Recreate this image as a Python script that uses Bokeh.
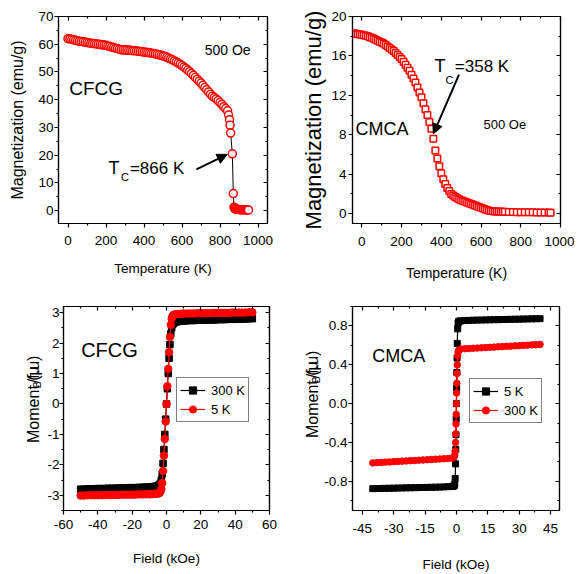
import math
from bokeh.plotting import figure
from bokeh.models import (Range1d, LinearAxis, FixedTicker, PrintfTickFormatter, Label,
                          Arrow, NormalHead, Legend, LegendItem)
from bokeh.layouts import column, row
from bokeh.embed import file_html
from bokeh.resources import INLINE

FONT = "Liberation Sans"
RED = "#ff0000"

# ---------------- Panel 1: CFCG  M(T) at 500 Oe ----------------
cfcg_T = [0, 10, 20, 30, 40, 50, 60, 70, 80, 90, 100, 110, 120, 130, 140, 150, 160, 170, 180, 190,
          200, 210, 220, 230, 240, 250, 260, 270, 280, 290, 300, 310, 320, 330, 340, 350, 360, 370,
          380, 390, 400, 410, 420, 430, 440, 450, 460, 470, 480, 490, 500, 510, 520, 530, 540, 550,
          560, 570, 580, 590, 600, 610, 620, 630, 640, 650, 660, 670, 680, 690, 700, 710, 720, 730,
          740, 750, 760, 770, 780, 790, 800, 810, 820, 830, 840, 845, 850, 853, 856, 865, 870, 874,
          877, 880, 885, 890, 895, 900, 905, 910, 915, 920, 925, 930, 935, 940, 945, 950]
cfcg_M = [62.0, 61.9, 61.8, 61.6, 61.4, 61.2, 61.1, 61.0, 60.9, 60.7, 60.6, 60.5, 60.4, 60.3, 60.2,
          60.1, 60.0, 59.9, 59.8, 59.7, 59.6, 59.4, 59.2, 59.0, 58.8, 58.6, 58.4, 58.2, 58.0, 58.0,
          57.9, 57.9, 57.8, 57.8, 57.7, 57.7, 57.6, 57.5, 57.4, 57.3, 57.2, 57.1, 57.0, 56.9, 56.8,
          56.7, 56.5, 56.4, 56.2, 56.0, 55.8, 55.6, 55.3, 55.0, 54.7, 54.4, 54.0, 53.6, 53.2, 52.8,
          52.3, 51.8, 51.3, 50.7, 50.1, 49.5, 48.8, 48.1, 47.4, 46.7, 46.0, 45.2, 44.4, 43.6, 42.8,
          42.0, 41.3, 40.8, 40.3, 39.7, 39.0, 38.3, 37.5, 36.8, 36.0, 34.5, 32.8, 30.8, 28.0, 20.5,
          6.2, 1.3, 0.8, 0.6, 0.55, 0.5, 0.45, 0.45, 0.4, 0.4, 0.4, 0.35, 0.35, 0.35, 0.3, 0.3, 0.3, 0.3]

# ---------------- Panel 2: CMCA  M(T) at 500 Oe ----------------
cmca_T = [-40, -30, -20, -10, 0, 10, 20, 30, 40, 50, 60, 70, 80, 90, 100, 110, 120, 130, 140, 150,
          160, 170, 180, 190, 200, 210, 220, 230, 240, 250, 260, 270, 280, 290, 300, 310, 320, 330,
          340, 350, 360, 370, 380, 390, 400, 410, 420, 430, 440, 450, 460, 470, 480, 490, 500, 510,
          520, 530, 540, 550, 560, 570, 580, 590, 600, 610, 620, 630, 640, 650, 660, 670, 680, 690,
          700, 710, 720, 740, 760, 780, 800, 820, 840, 860, 880, 900, 920, 940, 950]
cmca_M = [18.3, 18.25, 18.2, 18.2, 18.15, 18.1, 18.05, 18.0, 17.9, 17.85, 17.75, 17.65, 17.55,
          17.45, 17.35, 17.25, 17.1, 16.95, 16.8, 16.65, 16.5, 16.3, 16.1, 15.9, 15.7, 15.4, 15.1,
          14.8, 14.5, 14.1, 13.7, 13.3, 12.8, 12.3, 11.8, 11.2, 10.6, 10.0, 9.3, 8.6, 7.6, 6.4, 5.6,
          4.8, 4.1, 3.5, 3.0, 2.6, 2.3, 2.0, 1.85, 1.7, 1.55, 1.45, 1.35, 1.28, 1.2, 1.12, 1.05,
          0.98, 0.9, 0.82, 0.75, 0.67, 0.6, 0.52, 0.45, 0.37, 0.3, 0.26, 0.25, 0.23, 0.22, 0.21,
          0.2, 0.19, 0.18, 0.17, 0.16, 0.15, 0.15, 0.14, 0.13, 0.13, 0.12, 0.12, 0.11, 0.11, 0.1]

# ---------------- Panel 3: CFCG  M(H) ----------------
cfcg_H = [-50, -48, -46, -44, -42, -40, -38, -36, -34, -32, -30, -28, -26, -24, -22, -20, -18, -16,
          -14, -12, -10, -9, -8, -7, -6, -5, -4.5, -4, -3.5, -3, -2.5, -2, -1.5, -1, -0.5, 0, 0.5,
          1, 1.5, 2, 2.5, 3, 3.5, 4, 4.5, 5, 6, 7, 8, 9, 10, 12, 14, 16, 18, 20, 22, 24, 26, 28, 30,
          32, 34, 36, 38, 40, 42, 44, 46, 48, 50]
cfcg_300K = [-2.80, -2.80, -2.79, -2.79, -2.79, -2.78, -2.78, -2.78, -2.77, -2.77, -2.77, -2.76,
             -2.76, -2.76, -2.75, -2.75, -2.75, -2.74, -2.74, -2.73, -2.73, -2.72, -2.72, -2.71,
             -2.70, -2.69, -2.67, -2.65, -2.60, -2.50, -2.30, -1.95, -1.50, -1.00, -0.50, 0.0,
             0.50, 1.00, 1.50, 1.95, 2.30, 2.50, 2.60, 2.65, 2.67, 2.69, 2.70, 2.71, 2.72, 2.72,
             2.73, 2.73, 2.74, 2.74, 2.75, 2.75, 2.75, 2.76, 2.76, 2.76, 2.77, 2.77, 2.77, 2.78,
             2.78, 2.78, 2.79, 2.79, 2.79, 2.80, 2.80]
cfcg_5K = [-3.01, -3.01, -3.00, -3.00, -3.00, -3.00, -3.00, -2.99, -2.99, -2.99, -2.99, -2.99,
           -2.98, -2.98, -2.98, -2.98, -2.98, -2.97, -2.97, -2.97, -2.97, -2.96, -2.96, -2.95,
           -2.95, -2.94, -2.93, -2.92, -2.88, -2.80, -2.60, -2.20, -1.70, -1.15, -0.58, 0.0,
           0.58, 1.15, 1.70, 2.20, 2.60, 2.80, 2.88, 2.92, 2.93, 2.94, 2.95, 2.95, 2.96, 2.96,
           2.97, 2.97, 2.97, 2.97, 2.98, 2.98, 2.98, 2.98, 2.98, 2.99, 2.99, 2.99, 2.99, 2.99,
           3.00, 3.00, 3.00, 3.00, 3.00, 3.01, 3.01]

# ---------------- Panel 4: CMCA  M(H) ----------------
cmca_H = [-40, -38, -36, -34, -32, -30, -28, -26, -24, -22, -20, -18, -16, -14, -12, -10, -8, -6,
          -4, -2, -1.5, -1, -0.8, -0.6, -0.4, -0.3, -0.2, -0.1, 0, 0.1, 0.2, 0.3, 0.4, 0.6, 0.8,
          1, 1.5, 2, 4, 6, 8, 10, 12, 14, 16, 18, 20, 22, 24, 26, 28, 30, 32, 34, 36, 38, 40]
cmca_5K = [-0.875, -0.874, -0.873, -0.872, -0.871, -0.870, -0.869, -0.868, -0.867, -0.866,
           -0.865, -0.864, -0.863, -0.862, -0.861, -0.860, -0.859, -0.857, -0.855, -0.852,
           -0.850, -0.845, -0.830, -0.770, -0.620, -0.470, -0.320, -0.160, 0.0, 0.160, 0.320,
           0.470, 0.620, 0.770, 0.830, 0.845, 0.850, 0.852, 0.855, 0.857, 0.859, 0.860, 0.861,
           0.862, 0.863, 0.864, 0.865, 0.866, 0.867, 0.868, 0.869, 0.870, 0.871, 0.872, 0.873,
           0.874, 0.875]
cmca_300K = [-0.610, -0.607, -0.605, -0.602, -0.600, -0.597, -0.595, -0.592, -0.590, -0.587,
             -0.585, -0.582, -0.580, -0.577, -0.575, -0.572, -0.570, -0.567, -0.565, -0.562,
             -0.555, -0.545, -0.530, -0.490, -0.400, -0.310, -0.210, -0.110, 0.0, 0.110, 0.210,
             0.310, 0.400, 0.490, 0.530, 0.545, 0.555, 0.562, 0.565, 0.567, 0.570, 0.572, 0.575,
             0.577, 0.580, 0.582, 0.585, 0.587, 0.590, 0.592, 0.595, 0.597, 0.600, 0.602, 0.605,
             0.607, 0.610]

# ---------------- ticks ----------------
temp_ticks = [0, 200, 400, 600, 800, 1000]
temp_minor = [-100, 100, 300, 500, 700, 900]
cfcg_mt_ticks = [0, 10, 20, 30, 40, 50, 60, 70]
cfcg_mt_minor = [5, 15, 25, 35, 45, 55, 65]
cmca_mt_ticks = [0, 4, 8, 12, 16, 20]
cmca_mt_minor = [2, 6, 10, 14, 18]
cfcg_h_ticks = [-60, -40, -20, 0, 20, 40, 60]
cfcg_h_minor = [-50, -30, -10, 10, 30, 50]
cfcg_m_ticks = [-3, -2, -1, 0, 1, 2, 3]
cfcg_m_minor = [-3.5, -2.5, -1.5, -0.5, 0.5, 1.5, 2.5]
cmca_h_ticks = [-45, -30, -15, 0, 15, 30, 45]
cmca_h_minor = [-37.5, -22.5, -7.5, 7.5, 22.5, 37.5]
cmca_m_ticks = [-0.8, -0.4, 0.0, 0.4, 0.8]
cmca_m_minor = [-1.0, -0.6, -0.2, 0.2, 0.6, 1.0]

moment_title = ["Moment (\u03bc", "B", "/f.u)"]

TICK_FS = "13.5px"


def make_fig(xr, yr, borders, width):
    left, right, top, bottom = borders
    p = figure(width=width, height=287, x_range=Range1d(*xr), y_range=Range1d(*yr),
               output_backend="svg", toolbar_location=None,
               min_border_left=left, min_border_right=right,
               min_border_top=top, min_border_bottom=bottom)
    p.xgrid.visible = False
    p.ygrid.visible = False
    p.outline_line_color = "black"
    p.outline_line_width = 1.2
    p.background_fill_color = "white"
    p.border_fill_color = "white"
    return p


def style_axes(p, xt, xm, yt, ym, xfmt, yfmt):
    xa, ya = p.xaxis[0], p.yaxis[0]
    for ax, t, m, fmt in ((xa, xt, xm, xfmt), (ya, yt, ym, yfmt)):
        ax.ticker = FixedTicker(ticks=t, minor_ticks=m)
        ax.formatter = PrintfTickFormatter(format=fmt)
        ax.major_tick_out = 4
        ax.major_tick_in = 0
        ax.minor_tick_out = 2
        ax.minor_tick_in = 0
        ax.axis_line_width = 1.2
        ax.major_tick_line_width = 1.2
        ax.minor_tick_line_width = 1.2
        ax.major_label_text_font = FONT
        ax.major_label_text_font_size = TICK_FS
        ax.major_label_text_color = "black"
        ax.axis_label_text_font = FONT
        ax.axis_label_text_font_style = "normal"
        ax.axis_label_text_color = "black"
    for loc, t, m in (("above", xt, xm), ("right", yt, ym)):
        ax = LinearAxis(ticker=FixedTicker(ticks=t, minor_ticks=m),
                        major_label_text_font_size="0px", major_label_text_color=None,
                        major_label_standoff=0,
                        major_tick_in=4, major_tick_out=0, minor_tick_in=2, minor_tick_out=0,
                        axis_line_width=1.2, major_tick_line_width=1.2, minor_tick_line_width=1.2)
        p.add_layout(ax, loc)
    return xa, ya


def lab(p, x, y, text, size, align="left", baseline="alphabetic", angle=0.0):
    p.add_layout(Label(x=x, y=y, text=text, text_font=FONT, text_font_size=f"{size}px",
                       text_align=align, text_baseline=baseline, angle=angle,
                       text_color="black"))


def title_strip(width, base_x, start_y):
    """Narrow blank figure that carries the rotated y title with a subscript B."""
    t = figure(width=width, height=287, x_range=Range1d(0, width), y_range=Range1d(0, 287),
               output_backend="svg", toolbar_location=None, min_border=0,
               x_axis_location=None, y_axis_location=None)
    t.xgrid.visible = False
    t.ygrid.visible = False
    t.outline_line_color = None
    t.border_fill_color = "white"
    w_main = 4.799 * 16      # "Moment (μ" at 16px
    w_sub = 0.667 * 11       # "B" at 11px
    lab(t, base_x, start_y, moment_title[0], 16, angle=math.pi / 2)
    lab(t, base_x + 3, start_y + w_main, moment_title[1], 11, angle=math.pi / 2)
    lab(t, base_x, start_y + w_main + w_sub, moment_title[2], 16, angle=math.pi / 2)
    return t


# ---------- Panel 1 ----------
p1 = make_fig((-50, 1050), (-4.6, 70), (58, 16, 14, 64), 283)
x1, y1 = style_axes(p1, temp_ticks, temp_minor, cfcg_mt_ticks, cfcg_mt_minor, "%d", "%d")
x1.axis_label = "Temperature (K)"
x1.axis_label_text_font_size = "13.5px"
x1.major_label_standoff = 8
x1.axis_label_standoff = 13
y1.axis_label = "Magnetization (emu/g)"
y1.axis_label_text_font_size = "16px"
y1.major_label_standoff = 1
y1.axis_label_standoff = 9
p1.line(cfcg_T, cfcg_M, line_color="black", line_width=1)
p1.scatter(cfcg_T, cfcg_M, marker="circle", size=8, line_color=RED, line_width=1.5,
           fill_color="white")
lab(p1, 148, 43.9, "CFCG", 19, "center", "middle")
lab(p1, 840, 57.9, "500 Oe", 14, "center", "middle")
lab(p1, 213, 15.4, "T", 18)
lab(p1, 279, 12.1, "C", 11)
lab(p1, 326, 15.4, "=866 K", 17)
p1.add_layout(Arrow(end=NormalHead(size=10, fill_color="black", line_color="black"),
                    x_start=676, y_start=14.9, x_end=838, y_end=20.3,
                    line_width=2, line_color="black"))

# ---------- Panel 2 ----------
p2 = make_fig((-47, 1000), (-1.0, 20), (69, 14, 16, 60), 291)
x2, y2 = style_axes(p2, temp_ticks, temp_minor, cmca_mt_ticks, cmca_mt_minor, "%d", "%d")
x2.axis_label = "Temperature (K)"
x2.axis_label_text_font_size = "14px"
x2.major_label_standoff = 9
x2.axis_label_standoff = 16
y2.axis_label = "Magnetization (emu/g)"
y2.axis_label_text_font_size = "22px"
y2.major_label_standoff = 2
y2.axis_label_standoff = 2
p2.scatter(cmca_T, cmca_M, marker="square", size=6.5, line_color=RED, line_width=1.5,
           fill_color="white")
lab(p2, 102, 8.6, "CMCA", 18, "center", "middle")
lab(p2, 720, 9.0, "500 Oe", 13, "center", "middle")
lab(p2, 366, 14.95, "T", 18)
lab(p2, 421, 13.6, "C", 11)
lab(p2, 468, 14.95, "=358 K", 17)
p2.add_layout(Arrow(end=NormalHead(size=10, fill_color="black", line_color="black"),
                    x_start=489, y_start=14.1, x_end=360, y_end=8.1,
                    line_width=2, line_color="black"))

# ---------- Panel 3 ----------
t3 = title_strip(44, 33.0, 95)
p3 = make_fig((-60, 60), (-3.5, 3.2), (16, 14, 15, 59), 239)
x3, y3 = style_axes(p3, cfcg_h_ticks, cfcg_h_minor, cfcg_m_ticks, cfcg_m_minor, "%d", "%d")
x3.axis_label = "Field (kOe)"
x3.axis_label_text_font_size = "13.5px"
x3.major_label_standoff = 5
x3.axis_label_standoff = 19
y3.major_label_standoff = 0
l3a = p3.line(cfcg_H, cfcg_300K, line_color="black", line_width=1.2)
s3a = p3.scatter(cfcg_H, cfcg_300K, marker="square", size=6.5, line_color="black",
                 fill_color="black")
l3b = p3.line(cfcg_H, cfcg_5K, line_color=RED, line_width=1.2)
s3b = p3.scatter(cfcg_H, cfcg_5K, marker="circle", size=7.5, line_color=RED, fill_color=RED)
lab(p3, -33.2, 1.76, "CFCG", 20, "center", "middle")
leg3 = Legend(items=[LegendItem(label="300 K", renderers=[l3a, s3a]),
                     LegendItem(label="5 K", renderers=[l3b, s3b])],
              location=(113, 88))

# ---------- Panel 4 ----------
t4 = title_strip(38, 29.0, 102)
p4 = make_fig((-49.7, 49.3), (-1.1, 1.0), (29, 15, 19, 57), 253)
x4, y4 = style_axes(p4, cmca_h_ticks, cmca_h_minor, cmca_m_ticks, cmca_m_minor, "%d", "%.1f")
x4.axis_label = "Field (kOe)"
x4.axis_label_text_font_size = "13.5px"
x4.major_label_standoff = 9
x4.axis_label_standoff = 21
y4.major_label_standoff = 1
l4a = p4.line(cmca_H, cmca_5K, line_color="black", line_width=1.2)
s4a = p4.scatter(cmca_H, cmca_5K, marker="square", size=6, line_color="black",
                 fill_color="black")
l4b = p4.line(cmca_H, cmca_300K, line_color=RED, line_width=1.2)
s4b = p4.scatter(cmca_H, cmca_300K, marker="circle", size=6.5, line_color=RED, fill_color=RED)
lab(p4, -27.6, 0.49, "CMCA", 18, "center", "middle")
leg4 = Legend(items=[LegendItem(label="5 K", renderers=[l4a, s4a]),
                     LegendItem(label="300 K", renderers=[l4b, s4b])],
              location=(117, 87))

for leg, p in ((leg3, p3), (leg4, p4)):
    leg.border_line_color = "black"
    leg.border_line_width = 1
    leg.background_fill_color = "white"
    leg.background_fill_alpha = 1
    leg.label_text_font = FONT
    leg.label_text_font_size = "13px"
    leg.label_text_color = "black"
    leg.glyph_width = 25
    leg.glyph_height = 18
    leg.label_height = 18
    leg.label_standoff = 6
    leg.padding = 3
    leg.spacing = 1
    leg.margin = 0
    p.add_layout(leg)

layout = column(row(p1, p2), row(t3, p3, t4, p4))
open("out.html", "w").write(file_html(layout, INLINE))
